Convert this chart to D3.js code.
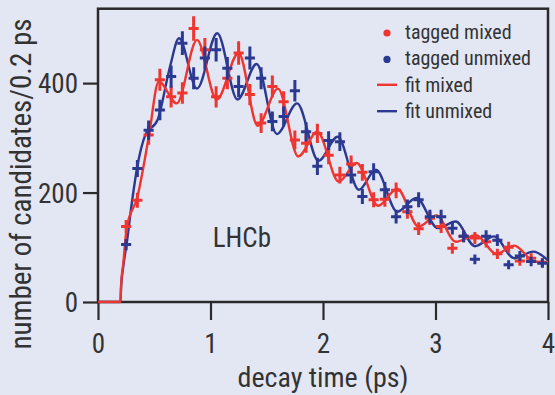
<!DOCTYPE html>
<html lang="en">
<head>
  <meta charset="UTF-8">
  <title>LHCb Bs oscillation</title>
  <script src="https://d3js.org/d3.v7.min.js"></script>
  <style>
    body {
      margin: 0;
      padding: 0;
      background-color: #e3e7f3;
    }
    svg text {
      font-family: "Liberation Sans Narrow", "Roboto Condensed", "DejaVu Sans Condensed", sans-serif;
      fill: #333;
    }
    .frame {
      fill: none;
      stroke: #2a2a2a;
      stroke-width: 2.5px;
    }
    .axis line {
      stroke: #2a2a2a;
      stroke-width: 2.2px;
    }
    .axis path {
      display: none;
    }
    .fit {
      fill: none;
      stroke-width: 2.4px;
    }
    .cross line {
      stroke-width: 3px;
    }
  </style>
</head>
<body>
  <div id="chart"></div>

  <script>
    // bin centres (ps)
    const binTimes = [0.25, 0.35, 0.45, 0.55, 0.65, 0.75, 0.85, 0.95, 1.05, 1.15,
                      1.25, 1.35, 1.45, 1.55, 1.65, 1.75, 1.85, 1.95, 2.05, 2.15,
                      2.25, 2.35, 2.45, 2.55, 2.65, 2.75, 2.85, 2.95, 3.05, 3.15,
                      3.25, 3.35, 3.45, 3.55, 3.65, 3.75, 3.85, 3.95];

    // tagged mixed candidates
    const mixedCounts = [138, 186, 305, 406, 375, 382, 500, 461, 375, 409,
                         455, 379, 327, 394, 366, 296, 290, 308, 268, 232,
                         252, 237, 187, 188, 204, 165, 134, 153, 138, 98,
                         120, 117, 110, 88, 100, 75, 80, 72];

    // tagged unmixed candidates
    const unmixedCounts = [105, 244, 314, 351, 412, 473, 409, 446, 461, 427,
                           394, 446, 409, 330, 339, 386, 311, 248, 295, 293,
                           232, 193, 238, 205, 156, 174, 187, 156, 156, 135,
                           120, 78, 120, 113, 68, 84, 74, 71];

    const fitMixedT = [0, 0.2, 0.205, 0.225, 0.255, 0.35, 0.45, 0.54, 0.70, 0.88,
                       1.055, 1.25, 1.42, 1.6, 1.78, 1.95, 2.14, 2.3, 2.49, 2.66,
                       2.85, 3.01, 3.18, 3.36, 3.54, 3.7, 3.88, 4.0];
    const fitMixedV = [0, 0, 30, 71, 135, 192, 300, 403, 363, 479,
                       370, 455, 322, 390, 266, 311, 220, 254, 176, 207,
                       138, 158, 110, 122, 88, 103, 74, 73];

    const fitUnmixedT = [0, 0.2, 0.205, 0.225, 0.255, 0.3, 0.35, 0.42, 0.53, 0.64,
                         0.72, 0.88, 1.06, 1.24, 1.41, 1.59, 1.77, 1.96, 2.13, 2.32,
                         2.47, 2.66, 2.83, 3.02, 3.18, 3.35, 3.52, 3.70, 3.87, 4.0];
    const fitUnmixedV = [0, 0, 25, 65, 107, 180, 248, 305, 333, 430,
                         482, 390, 491, 370, 435, 307, 363, 258, 302, 205,
                         242, 165, 190, 135, 147, 102, 120, 80, 92, 76];

    const xTicks = [0, 1, 2, 3, 4];
    const yTicks = [0, 200, 400];

    const red = "#ee3530";
    const blue = "#2b3990";

    const legendItems = [
      { label: "tagged mixed", kind: "dot", color: red },
      { label: "tagged unmixed", kind: "dot", color: blue },
      { label: "fit mixed", kind: "line", color: red },
      { label: "fit unmixed", kind: "line", color: blue }
    ];

    const W = 555, H = 395;
    const plot = { left: 98, right: 548, top: 8.7, bottom: 302 };

    const svg = d3.select("#chart").append("svg")
      .attr("width", W)
      .attr("height", H);

    const x = d3.scaleLinear().domain([0, 4]).range([plot.left, plot.right]);
    const y = d3.scaleLinear().domain([0, 536]).range([plot.bottom, plot.top]);

    svg.append("clipPath").attr("id", "clip")
      .append("rect")
      .attr("x", plot.left).attr("y", plot.top)
      .attr("width", plot.right - plot.left)
      .attr("height", plot.bottom - plot.top + 1.5);

    // axes
    const xAxis = svg.append("g")
      .attr("class", "axis")
      .attr("transform", `translate(0,${plot.bottom})`)
      .call(d3.axisBottom(x).tickValues(xTicks).tickFormat(d3.format("d"))
        .tickSize(18).tickSizeOuter(0));
    xAxis.selectAll("text")
      .attr("y", 51).attr("dy", null)
      .style("font-size", "27px");

    const yAxis = svg.append("g")
      .attr("class", "axis")
      .attr("transform", `translate(${plot.left},0)`)
      .call(d3.axisLeft(y).tickValues(yTicks).tickSize(15).tickPadding(5).tickSizeOuter(0));
    yAxis.selectAll("text")
      .attr("dy", "0.36em")
      .style("font-size", "27px");

    // frame
    svg.append("rect")
      .attr("class", "frame")
      .attr("x", plot.left).attr("y", plot.top)
      .attr("width", plot.right - plot.left)
      .attr("height", plot.bottom - plot.top);

    const g = svg.append("g").attr("clip-path", "url(#clip)");

    const line = d3.line()
      .x(d => x(d[0]))
      .y(d => y(d[1]))
      .curve(d3.curveMonotoneX);

    g.append("path")
      .attr("class", "fit")
      .attr("stroke", blue)
      .attr("d", line(d3.zip(fitUnmixedT, fitUnmixedV)));

    g.append("path")
      .attr("class", "fit")
      .attr("stroke", red)
      .attr("d", line(d3.zip(fitMixedT, fitMixedV)));

    // data points with error bars
    function drawCrosses(counts, color) {
      const pts = g.append("g").attr("class", "cross")
        .selectAll("g")
        .data(d3.zip(binTimes, counts))
        .enter().append("g");
      pts.append("line")
        .attr("stroke", color)
        .attr("x1", d => x(d[0] - 0.045))
        .attr("x2", d => x(d[0] + 0.045))
        .attr("y1", d => y(d[1]))
        .attr("y2", d => y(d[1]));
      pts.append("line")
        .attr("stroke", color)
        .attr("x1", d => x(d[0]))
        .attr("x2", d => x(d[0]))
        .attr("y1", d => y(d[1] - Math.sqrt(d[1])))
        .attr("y2", d => y(d[1] + Math.sqrt(d[1])));
    }
    drawCrosses(mixedCounts, red);
    drawCrosses(unmixedCounts, blue);

    // labels
    svg.append("text")
      .attr("x", x(2)).attr("y", 387)
      .attr("text-anchor", "middle")
      .style("font-size", "28px")
      .text("decay time (ps)");

    svg.append("text")
      .attr("transform", "translate(31,184) rotate(-90)")
      .attr("text-anchor", "middle")
      .style("font-size", "29px")
      .text("number of candidates/0.2 ps");

    svg.append("text")
      .attr("x", x(1.02)).attr("y", 247)
      .style("font-size", "27px")
      .text("LHCb");

    // legend
    const legend = svg.append("g").attr("transform", "translate(0,39)");
    const row = legend.selectAll("g")
      .data(legendItems)
      .enter().append("g")
      .attr("transform", (d, i) => `translate(0,${i * 26.4})`);
    row.filter(d => d.kind === "dot").append("circle")
      .attr("cx", 387).attr("cy", -6).attr("r", 3.6)
      .attr("fill", d => d.color);
    row.filter(d => d.kind === "line").append("line")
      .attr("x1", 377).attr("x2", 397)
      .attr("y1", -7).attr("y2", -7)
      .attr("stroke", d => d.color)
      .attr("stroke-width", 2.4);
    row.append("text")
      .attr("x", 405)
      .style("font-size", "20px")
      .text(d => d.label);
  </script>
</body>
</html>
